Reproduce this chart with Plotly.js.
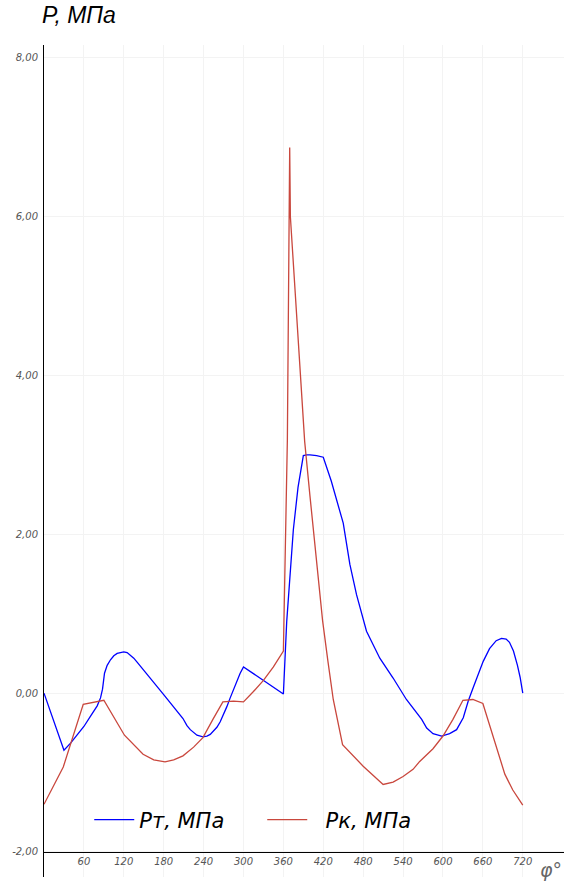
<!DOCTYPE html>
<html>
<head>
<meta charset="utf-8">
<script src="https://cdn.plot.ly/plotly-3.0.1.min.js"></script>
<style>html,body{margin:0;padding:0;background:#fff;}#chart{width:564px;height:887px;}</style>
</head>
<body>
<div id="chart"></div>
<script>
// Crank angle (deg) and pressures (MPa)
const phiT = [0,30,40,50,60,70,80,85,88,91,95,100,105,110,120,125,130,135,140,145,149,180,209,215,220,225,230,239,245,250,255,260,265,270,275,280,285,290,295,300,360,365,370,375,382,390,395,400,410,420,432,445,450,460,470,485,505,525,545,568,575.5,585,598,610,620.5,630.5,638,645.5,652,660.5,670,680,688,695,700,706,712,716,720];
const pT = [0.00,-0.72,-0.63,-0.53,-0.42,-0.29,-0.16,-0.06,0.05,0.25,0.35,0.42,0.47,0.50,0.52,0.51,0.48,0.44,0.39,0.34,0.29,-0.02,-0.32,-0.41,-0.46,-0.50,-0.53,-0.55,-0.54,-0.52,-0.48,-0.43,-0.36,-0.27,-0.17,-0.06,0.05,0.15,0.25,0.33,-0.01,0.90,1.55,2.06,2.59,2.99,3.00,3.00,2.99,2.97,2.67,2.31,2.14,1.62,1.24,0.78,0.44,0.19,-0.08,-0.33,-0.44,-0.51,-0.54,-0.51,-0.46,-0.31,-0.10,0.07,0.22,0.40,0.56,0.66,0.69,0.68,0.64,0.53,0.35,0.20,0.00];

const phiK = [0,11,29,59,75,90,121,149,165,182,195,209,225,239,254,269,285,300,315,330,345,360,366,369.5,370.5,380,392,400,410,419,427,435,449,480,510,525,540,555,565,585,600,615,630,645,660,676,693,705,720];
const pK = [-1.40,-1.22,-0.93,-0.14,-0.11,-0.09,-0.53,-0.77,-0.84,-0.865,-0.84,-0.79,-0.68,-0.56,-0.33,-0.11,-0.10,-0.11,0.02,0.16,0.33,0.53,3.20,6.87,6.00,4.75,3.17,2.48,1.66,0.91,0.40,-0.08,-0.65,-0.92,-1.15,-1.12,-1.05,-0.96,-0.86,-0.70,-0.54,-0.33,-0.09,-0.08,-0.13,-0.56,-1.02,-1.22,-1.41];

const seriesNames = ['Pт, МПа', '\u00A0\u00A0Pк, МПа'];
const xTickVals = [60,120,180,240,300,360,420,480,540,600,660,720];
const yTickVals = [-2,0,2,4,6,8];
const yTickText = ['-2,00','0,00','2,00','4,00','6,00','8,00'];

const tickFont = {family:'DejaVu Sans', size:10, color:'#555', style:'italic'};

const traces = [
  {x: phiT, y: pT, type:'scatter', mode:'lines', name: seriesNames[0],
   line:{color:'#0000ff', width:1.3}},
  {x: phiK, y: pK, type:'scatter', mode:'lines', name: seriesNames[1],
   line:{color:'#c9473d', width:1.3}}
];

const layout = {
  width:564, height:887,
  margin:{l:44, r:0, t:45, b:10},
  paper_bgcolor:'#fff', plot_bgcolor:'#fff',
  showlegend:true,
  legend:{orientation:'h', x:0.087, y:0.0685, xanchor:'left', yanchor:'middle',
    font:{family:'DejaVu Sans', size:21, color:'#000', style:'italic'},
    itemwidth:40, entrywidth:118, bgcolor:'rgba(0,0,0,0)'},
  xaxis:{range:[0,782], showline:true, linecolor:'#000', linewidth:1,
    anchor:'free', position:0.030, tickvals:xTickVals, ticks:'',
    showgrid:true, gridcolor:'#f3f3f3', gridwidth:1, zeroline:false,
    tickfont:tickFont, fixedrange:true},
  yaxis:{range:[-2.315,8.16], showline:true, linecolor:'#000', linewidth:1,
    tickvals:yTickVals, ticktext:yTickText, ticks:'', ticklabelstandoff:3,
    showgrid:true, gridcolor:'#f3f3f3', gridwidth:1, zeroline:false,
    tickfont:tickFont, fixedrange:true},
  annotations:[
    {text:'P, МПа', xref:'paper', yref:'paper', x:-0.008, y:1.036,
     xanchor:'left', yanchor:'middle', showarrow:false,
     font:{family:"'Liberation Sans', Arial, sans-serif", size:23, color:'#000', style:'italic'}},
    {text:'φ°', xref:'paper', yref:'paper', x:0.975, y:0.008,
     xanchor:'center', yanchor:'middle', showarrow:false,
     font:{family:'DejaVu Sans', size:19, color:'#666', style:'italic'}}
  ]
};

Plotly.newPlot('chart', traces, layout, {displayModeBar:false, staticPlot:true});
</script>
</body>
</html>
